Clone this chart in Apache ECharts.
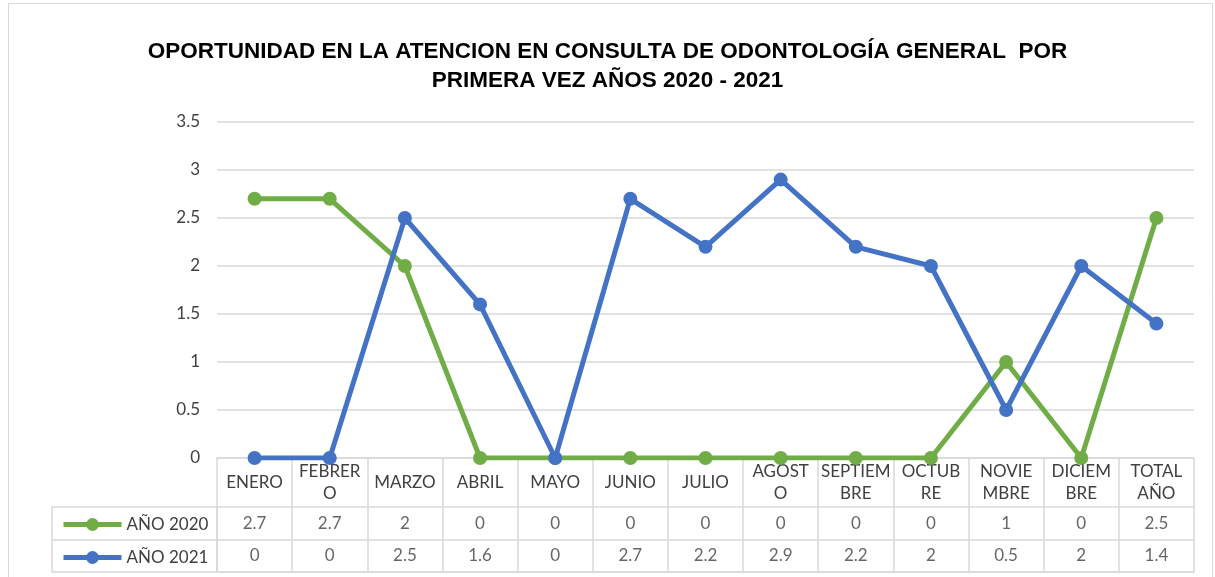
<!DOCTYPE html>
<html>
<head>
<meta charset="UTF-8">
<title>Oportunidad odontología</title>
<script src="https://cdn.jsdelivr.net/npm/echarts@6/dist/echarts.min.js"></script>
<style>
  html, body { margin: 0; padding: 0; background: #fff; }
  #chart { width: 1215px; height: 577px; }
</style>
</head>
<body>
<div id="chart"></div>
<script type="text/javascript">
// etiquetas de columna, tal como aparecen partidas en la tabla
var meses = ['ENERO', 'FEBRER\nO', 'MARZO', 'ABRIL', 'MAYO', 'JUNIO', 'JULIO',
  'AGOST\nO', 'SEPTIEM\nBRE', 'OCTUB\nRE', 'NOVIE\nMBRE', 'DICIEM\nBRE', 'TOTAL\nAÑO'];
var anio2020 = [2.7, 2.7, 2, 0, 0, 0, 0, 0, 0, 0, 1, 0, 2.5];
var anio2021 = [0, 0, 2.5, 1.6, 0, 2.7, 2.2, 2.9, 2.2, 2, 0.5, 2, 1.4];
var filas = ['AÑO 2020', 'AÑO 2021'];
var yTicks = { min: 0, max: 3.5, interval: 0.5 };

var verde = '#70AD47';
var azul = '#4472C4';
var gris = '#d9d9d9';
var texto = '#404040';
var fuente = 'Lato';
var tam = 17;

var myChart = echarts.init(document.getElementById('chart'));

// celdas de la tabla: [columna, fila, valor]
var celdas = [];
[anio2020, anio2021].forEach(function (serie, f) {
  serie.forEach(function (v, i) {
    celdas.push([i, f, v]);
  });
});

var option = {
  animation: false,
  textStyle: { fontFamily: fuente },
  title: {
    text: 'OPORTUNIDAD EN LA ATENCION EN CONSULTA DE ODONTOLOGÍA GENERAL  POR\nPRIMERA VEZ AÑOS 2020 - 2021',
    left: 'center',
    top: 32,
    textStyle: {
      fontFamily: 'Liberation Sans',
      fontWeight: 'bold',
      fontSize: 22.5,
      lineHeight: 29,
      color: '#000'
    }
  },
  graphic: [{
    type: 'rect',
    shape: { x: 8.5, y: 3.5, width: 1204, height: 600 },
    style: { fill: 'none', stroke: gris, lineWidth: 1 },
    silent: true
  }],
  legend: {
    data: filas,
    orient: 'vertical',
    left: 56,
    top: 511,
    itemWidth: 58,
    itemHeight: 16,
    itemGap: 16,
    selectedMode: false,
    lineStyle: { width: 5 },
    textStyle: { fontSize: tam, color: texto, fontFamily: fuente }
  },
  grid: [
    { left: 217, right: 21, top: 122, height: 336 },
    { left: 217, right: 21, top: 507, height: 65 }
  ],
  xAxis: [{
    type: 'category',
    gridIndex: 0,
    data: meses,
    boundaryGap: true,
    axisLine: { show: true, lineStyle: { color: gris, width: 1.5 } },
    axisTick: { show: true, interval: 0, length: 49, lineStyle: { color: gris, width: 1.5 } },
    axisLabel: {
      interval: 0, fontSize: tam, color: texto, lineHeight: 22,
      verticalAlign: 'middle', margin: 25, fontFamily: fuente
    }
  }, {
    type: 'category',
    gridIndex: 1,
    data: meses,
    boundaryGap: true,
    axisLine: { show: true, lineStyle: { color: gris, width: 1.5 } },
    axisTick: { show: false },
    axisLabel: { show: false },
    splitLine: { show: true, interval: 0, lineStyle: { color: gris, width: 1.5 } }
  }],
  yAxis: [{
    type: 'value',
    gridIndex: 0,
    min: yTicks.min,
    max: yTicks.max,
    interval: yTicks.interval,
    axisLine: { show: false },
    axisTick: { show: false },
    axisLabel: { fontSize: tam, color: texto, margin: 17, fontFamily: fuente },
    splitLine: { lineStyle: { color: gris, width: 1.5 } }
  }, {
    type: 'category',
    gridIndex: 1,
    data: filas,
    inverse: true,
    boundaryGap: true,
    axisLine: { show: true, lineStyle: { color: gris, width: 1.5 } },
    axisTick: { show: true, interval: 0, length: 165, lineStyle: { color: gris, width: 1.5 } },
    axisLabel: { show: false },
    splitLine: { show: true, interval: 0, lineStyle: { color: gris, width: 1.5 } }
  }, {
    type: 'category',
    gridIndex: 1,
    data: filas,
    position: 'left',
    offset: 165,
    axisLine: { show: true, lineStyle: { color: gris, width: 1.5 } },
    axisTick: { show: false },
    axisLabel: { show: false },
    splitLine: { show: false }
  }],
  series: [{
    name: filas[0],
    type: 'line',
    data: anio2020,
    symbol: 'circle',
    symbolSize: 14,
    itemStyle: { color: verde },
    lineStyle: { color: verde, width: 5 },
    z: 3
  }, {
    name: filas[1],
    type: 'line',
    data: anio2021,
    symbol: 'circle',
    symbolSize: 14,
    itemStyle: { color: azul },
    lineStyle: { color: azul, width: 5 },
    z: 4
  }, {
    name: 'tabla',
    type: 'scatter',
    xAxisIndex: 1,
    yAxisIndex: 1,
    data: celdas,
    symbolSize: 0,
    itemStyle: { color: 'transparent' },
    silent: true,
    label: {
      show: true,
      position: 'inside',
      formatter: function (p) { return p.value[2]; },
      fontSize: tam,
      color: texto,
      fontFamily: fuente
    }
  }]
};

myChart.setOption(option);
</script>
</body>
</html>
